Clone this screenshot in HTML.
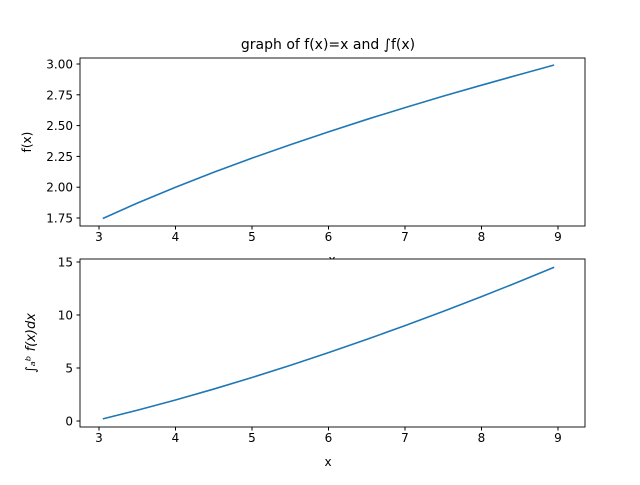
<!DOCTYPE html>
<html><head><meta charset="utf-8"><style>body{margin:0;background:#fff}svg{font-family:"DejaVu Sans","Liberation Sans",sans-serif}</style></head>
<body>
<svg id="c" width="640" height="480"></svg>
<script>
const xs=[3.05,3.5,4,4.5,5,5.5,6,6.5,7,7.5,8,8.5,8.95];
const fVals=[1.746,1.871,2.0,2.121,2.236,2.345,2.449,2.550,2.646,2.739,2.828,2.915,2.992];
const intVals=[0.2,1.014,1.982,3.013,4.102,5.248,6.447,7.697,8.995,10.342,11.733,13.170,14.50];
const xTicks=[3,4,5,6,7,8,9];
const topYTicks=[1.75,2.00,2.25,2.50,2.75,3.00];
const botYTicks=[0,5,10,15];
const NS="http://www.w3.org/2000/svg",svg=document.getElementById('c');
function mk(t,a,txt){const e=document.createElementNS(NS,t);for(const k in a)e.setAttribute(k,a[k]);if(txt!=null)e.textContent=txt;svg.appendChild(e);return e;}
const X=v=>99+(v-3)*76.5;
const Yt=v=>218-(v-1.75)*123.2;
const Yb=v=>421-v*10.6;
function panel(top,bot,Y,vals,yt,fmt,name){
 const r=mk('rect',{x:80,y:top,width:505,height:bot-top,fill:'#fff',stroke:'none'});
 
 xTicks.forEach(t=>{const l=mk('line',{x1:X(t),x2:X(t),y1:bot,y2:bot+3.5,stroke:'#000'});
  
  const tx=mk('text',{x:X(t),y:bot+15,'font-size':12,'text-anchor':'middle'},t);
  });
 yt.forEach(t=>{const l=mk('line',{x1:76.5,x2:80,y1:Y(t),y2:Y(t),stroke:'#000'});
  
  const tx=mk('text',{x:73,y:Y(t)+4.5,'font-size':12,'text-anchor':'end'},fmt(t));
  });
 const p=mk('polyline',{points:xs.map((x,i)=>X(x)+','+Y(vals[i])).join(' '),fill:'none',stroke:'#1f77b4','stroke-width':1.6});
 
 const f=mk('rect',{x:80,y:top,width:505,height:bot-top,fill:'none',stroke:'#000','stroke-width':0.9});
 
}
const hx=mk('text',{x:332,y:264,'font-size':12,'text-anchor':'middle'},'x');

panel(58,226,Yt,fVals,topYTicks,t=>t.toFixed(2),'top');
panel(259,427,Yb,intVals,botYTicks,t=>String(t),'bottom');
const t=mk('text',{x:328,y:49,'font-size':14,'text-anchor':'middle'},'graph of f(x)=x and ∫f(x)');

const yl=mk('text',{x:31,y:142,'font-size':12,'text-anchor':'middle',transform:'rotate(-90 31 142)'},'f(x)');

const yl2=mk('text',{x:35,y:343,'font-size':13,'font-style':'italic','text-anchor':'middle',transform:'rotate(-90 35 343)'},'∫ₐᵇ f(x)dx');

const xl=mk('text',{x:328,y:466,'font-size':12,'text-anchor':'middle'},'x');

</script>
</body></html>
